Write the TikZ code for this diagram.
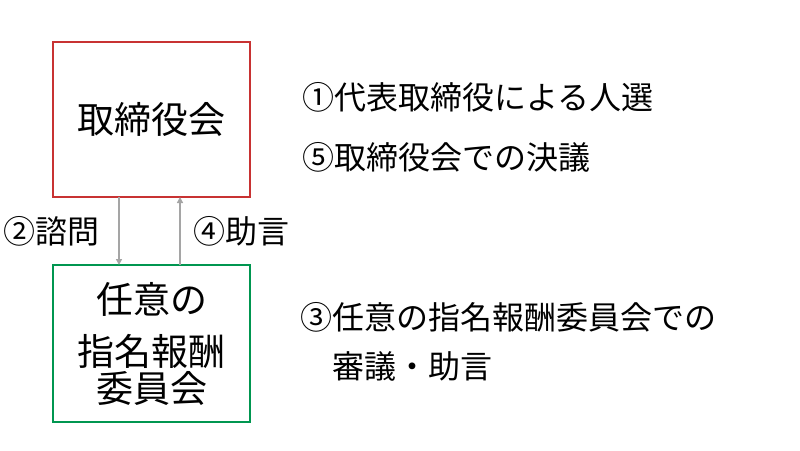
\documentclass[tikz,border=0pt]{standalone}
\usepackage{fontspec}
\setmainfont{Noto Sans CJK JP}
\usetikzlibrary{arrows.meta}
\definecolor{boxred}{RGB}{200,50,50}
\definecolor{boxgreen}{RGB}{0,150,80}
\definecolor{arrgray}{RGB}{165,165,165}
\tikzset{
  orgbox/.style={draw, line width=1.5pt, minimum width=197pt, minimum height=155pt, inner sep=0pt, align=center,
    font=\fontsize{37}{37}\selectfont},
  flow/.style={draw=arrgray, line width=1.5pt, -{Triangle[width=6pt,length=6pt]}},
  lbl/.style={font=\fontsize{32}{49}\selectfont, inner sep=0pt, anchor=west, align=left},
}
\begin{document}
\begin{tikzpicture}[x=1pt,y=-1pt]
\useasboundingbox (0,0) rectangle (800,450);
\node[orgbox, draw=boxred] (board) at (151.5,119.5) {取締役会};
\node[orgbox, draw=boxgreen, minimum height=157pt] (comm) at (151.5,343.5) {任意の\\[15pt]指名報酬\\委員会};
\coordinate (d1) at (119,197);
\coordinate (d2) at (119,265);
\coordinate (u1) at (180,265);
\coordinate (u2) at (180,197);
\draw[flow] (d1) -- (d2);
\draw[flow] (u1) -- (u2);
\node[lbl] (consult) at (3,231) {②諮問};
\node[lbl] (advice) at (193,231) {④助言};
\node[lbl] (t1) at (302,97) {①代表取締役による人選};
\node[lbl] (t5) at (302,157) {⑤取締役会での決議};
\node[lbl, anchor=north west] (t3) at (300,302) {③任意の指名報酬委員会での\\\hspace*{1em}審議・助言};
\end{tikzpicture}
\end{document}
